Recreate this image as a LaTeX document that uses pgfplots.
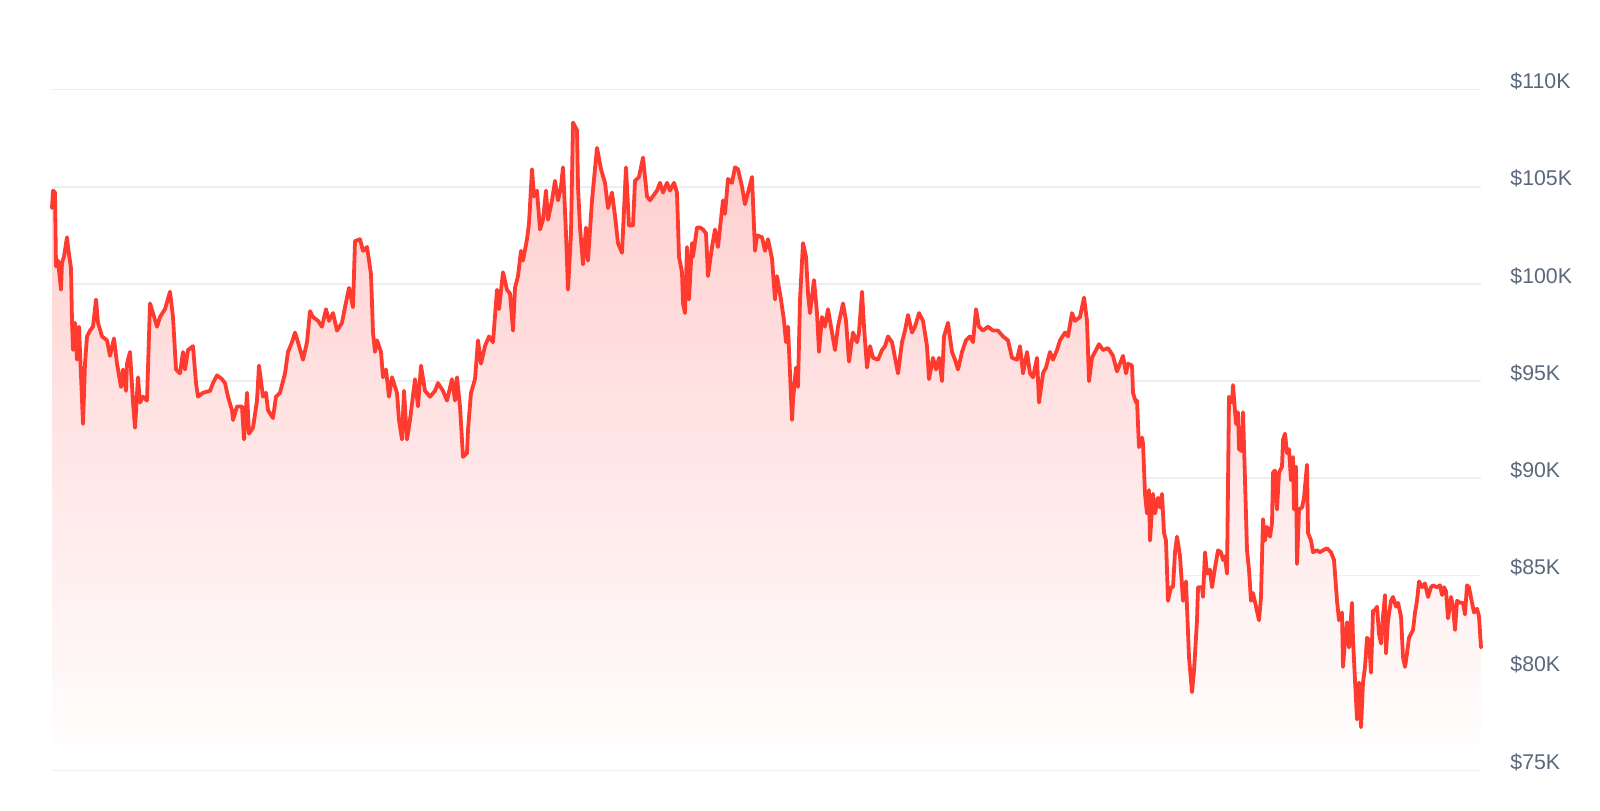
\documentclass[border=0pt]{standalone}
\usepackage{fontspec}
\setmainfont{Liberation Sans}
\usepackage{pgfplots}
\pgfplotsset{compat=1.18}
\usepackage{pgfplotstable}

\definecolor{pricered}{RGB}{255,59,48}
\definecolor{fillred}{RGB}{255,204,204}
\definecolor{gridgray}{RGB}{236,238,241}
\definecolor{labelgray}{RGB}{90,104,124}

% x = position along the time axis, y = price in $K
\pgfplotstableread{
x y
52 103.9
53 104.8
55 104.7
56 100.9
58 101.2
61 99.7
62 101.1
64 101.4
67 102.4
68 101.9
71 100.8
72 98.1
73 96.6
75 98.0
77 96.1
79 97.8
83 92.8
85 95.9
87 97.3
90 97.6
93 97.8
96 99.2
98 98.0
102 97.3
107 97.1
110 96.3
114 97.2
117 95.9
121 94.7
123 95.6
126 94.5
127 95.9
130 96.5
133 93.9
135 92.6
138 95.2
140 93.9
143 94.2
147 94.0
150 99.0
153 98.5
157 97.8
160 98.3
165 98.7
170 99.6
173 98.3
176 95.6
180 95.4
183 96.5
185 95.6
188 96.6
193 96.8
196 94.9
198 94.2
203 94.4
210 94.5
213 94.9
217 95.3
222 95.1
225 94.9
228 94.2
232 93.5
233 93.0
237 93.7
242 93.7
244 92.0
247 94.4
249 92.3
253 92.6
257 94.0
259 95.8
263 94.2
266 94.4
268 93.5
273 93.1
276 94.2
280 94.4
285 95.4
288 96.5
292 97.0
295 97.5
298 97.0
303 96.1
307 97.0
310 98.6
313 98.3
318 98.1
322 97.8
326 98.7
329 98.1
333 98.5
337 97.6
342 98.0
345 98.8
349 99.8
353 98.8
355 102.2
360 102.3
363 101.7
367 101.9
371 100.5
373 97.5
375 96.5
377 97.1
381 96.5
383 95.2
386 95.6
389 94.2
392 95.2
397 94.4
399 93.0
402 92.0
404 94.5
407 92.0
410 93.0
415 95.1
418 93.7
421 95.8
425 94.5
430 94.2
435 94.5
438 94.9
443 94.5
447 94.0
452 95.1
455 94.0
457 95.2
460 93.7
463 91.1
467 91.3
468 92.5
471 94.4
475 95.1
478 97.1
481 95.9
485 96.8
489 97.3
493 97.0
497 99.7
499 98.7
503 100.6
507 99.7
510 99.5
513 97.6
515 99.8
518 100.4
521 101.7
523 101.2
527 102.3
529 103.1
532 105.9
534 104.5
537 104.8
540 102.8
543 103.3
546 104.8
548 103.3
552 104.3
555 105.3
558 104.3
561 105.0
563 106.0
566 102.6
568 99.7
571 102.6
573 108.3
577 107.9
578 105.0
580 102.9
583 101.0
586 102.9
588 101.2
592 104.3
597 107.0
601 105.9
605 105.2
608 103.9
612 104.7
615 103.5
618 102.1
622 101.6
626 106.0
629 103.0
633 103.0
635 105.3
639 105.5
643 106.5
647 104.5
650 104.3
657 104.8
660 105.2
663 104.7
667 105.2
670 104.8
674 105.2
677 104.7
679 101.4
682 100.6
683 99.0
685 98.5
687 101.9
689 99.2
692 102.1
693 101.4
697 102.9
700 102.9
703 102.8
706 102.6
708 100.4
712 101.9
715 102.8
718 101.9
723 104.3
725 103.6
728 105.4
732 105.2
735 106.0
738 105.9
742 105.0
745 104.1
748 104.7
752 105.5
755 101.7
757 102.5
762 102.4
765 101.7
768 102.3
772 101.3
775 99.2
777 100.4
781 99.2
784 98.1
786 97.0
788 97.8
790 95.4
792 93.0
793 94.0
796 95.7
798 94.7
800 99.2
803 102.1
806 101.4
808 99.5
810 98.5
814 100.2
817 98.5
819 96.5
822 98.3
825 97.8
828 98.7
832 97.5
835 96.6
838 97.8
843 99.0
846 98.1
849 96.0
853 97.5
857 97.0
859 97.5
862 99.6
864 97.8
867 95.7
870 96.8
873 96.2
878 96.1
882 96.6
885 96.8
888 97.3
892 97.0
895 96.2
898 95.4
902 97.0
905 97.6
908 98.4
912 97.5
915 97.8
919 98.5
923 98.1
927 96.8
929 95.1
933 96.2
936 95.6
939 96.2
942 95.0
944 97.3
948 98.0
952 96.5
955 96.1
958 95.6
962 96.5
966 97.1
970 97.3
973 97.0
976 98.7
979 97.8
983 97.6
988 97.8
993 97.6
998 97.6
1003 97.3
1008 97.1
1012 96.2
1017 96.1
1020 96.8
1023 95.4
1027 96.5
1030 95.4
1033 95.2
1037 96.2
1039 93.9
1043 95.4
1046 95.7
1050 96.5
1053 96.1
1057 96.6
1060 97.1
1065 97.5
1068 97.3
1072 98.5
1075 98.1
1080 98.3
1084 99.3
1087 98.1
1089 95.0
1092 96.2
1095 96.5
1099 96.9
1103 96.6
1108 96.7
1113 96.3
1117 95.5
1120 95.9
1123 96.3
1126 95.4
1128 95.9
1132 95.8
1133 94.4
1136 93.9
1137 94.0
1139 91.6
1142 92.1
1143 91.8
1145 89.2
1147 88.2
1149 89.4
1150 86.8
1153 89.2
1155 88.2
1158 89.0
1160 88.5
1162 89.2
1164 87.2
1166 86.8
1168 83.7
1171 84.4
1173 84.4
1175 86.2
1177 87.0
1180 86.0
1183 83.7
1186 84.7
1187 83.4
1189 80.8
1192 79.0
1194 80.1
1197 82.7
1198 84.4
1202 84.4
1203 83.9
1205 86.2
1207 85.1
1210 85.3
1212 84.4
1215 85.4
1218 86.3
1221 86.2
1223 85.8
1225 86.0
1227 85.1
1229 94.2
1232 93.9
1233 94.8
1236 92.8
1238 93.4
1239 91.5
1242 91.4
1243 93.4
1245 89.9
1247 86.3
1249 85.3
1251 83.7
1253 84.1
1256 83.4
1259 82.7
1261 83.9
1263 87.9
1265 86.8
1267 87.5
1270 87.0
1272 87.7
1273 90.3
1275 90.4
1277 88.4
1279 90.3
1282 90.6
1283 92.0
1285 92.3
1287 91.3
1289 91.5
1291 89.9
1293 91.1
1294 88.4
1296 90.6
1297 85.6
1299 88.4
1302 88.5
1304 89.0
1307 90.7
1308 87.2
1311 86.8
1313 86.2
1317 86.3
1320 86.2
1323 86.3
1327 86.4
1331 86.2
1334 85.8
1337 83.7
1339 82.7
1342 83.1
1343 80.3
1345 81.7
1347 82.6
1349 81.3
1352 83.6
1353 81.7
1355 79.6
1357 77.6
1359 79.5
1361 77.2
1363 79.5
1365 80.3
1367 81.8
1369 81.7
1371 80.0
1373 83.2
1375 83.2
1377 83.4
1379 82.0
1381 81.5
1383 82.9
1385 84.0
1386 81.0
1388 82.7
1391 83.7
1393 83.9
1396 83.4
1398 83.6
1401 82.9
1403 80.8
1405 80.3
1407 81.0
1409 81.8
1413 82.2
1415 83.1
1417 83.7
1419 84.7
1422 84.4
1425 84.6
1428 83.9
1431 84.4
1433 84.5
1437 84.4
1440 84.5
1442 84.0
1444 84.4
1446 84.2
1448 82.8
1451 83.9
1453 83.4
1455 82.2
1457 83.7
1460 83.6
1463 83.6
1465 83.0
1467 84.5
1469 84.4
1472 83.6
1474 83.1
1477 83.3
1479 82.9
1481 81.3
}\price

\begin{document}
\begin{tikzpicture}
\path (-26bp,-20.5bp) rectangle (774bp,385bp);
\begin{axis}[
    scale only axis,
    width=714.5bp, height=340.25bp,
    xmin=52, xmax=1481,
    ymin=75, ymax=110,
    clip=false,
    axis line style={draw=none},
    tick style={draw=none},
    xtick=\empty,
    ytick={75,80,...,110},
    yticklabels={\$75K,\$80K,\$85K,\$90K,\$95K,\$100K,\$105K,\$110K},
    yticklabel pos=right,
    yticklabel style={anchor=west, inner sep=0pt, xshift=14.5bp, yshift=4bp,
        font=\fontsize{10.7}{12}\selectfont, text=labelgray},
    ymajorgrids,
    grid style={color=gridgray, line width=0.9bp},
]
% gradient area under the price line, closed down to the $75K baseline
\addplot[draw=none, top color=fillred, bottom color=white]
    table[x=x, y=y] {\price} |- (axis cs:52,75) -- cycle;
\addplot[pricered, line width=1.9bp, line join=round, line cap=round]
    table[x=x, y=y] {\price};
\end{axis}
\end{tikzpicture}
\end{document}
